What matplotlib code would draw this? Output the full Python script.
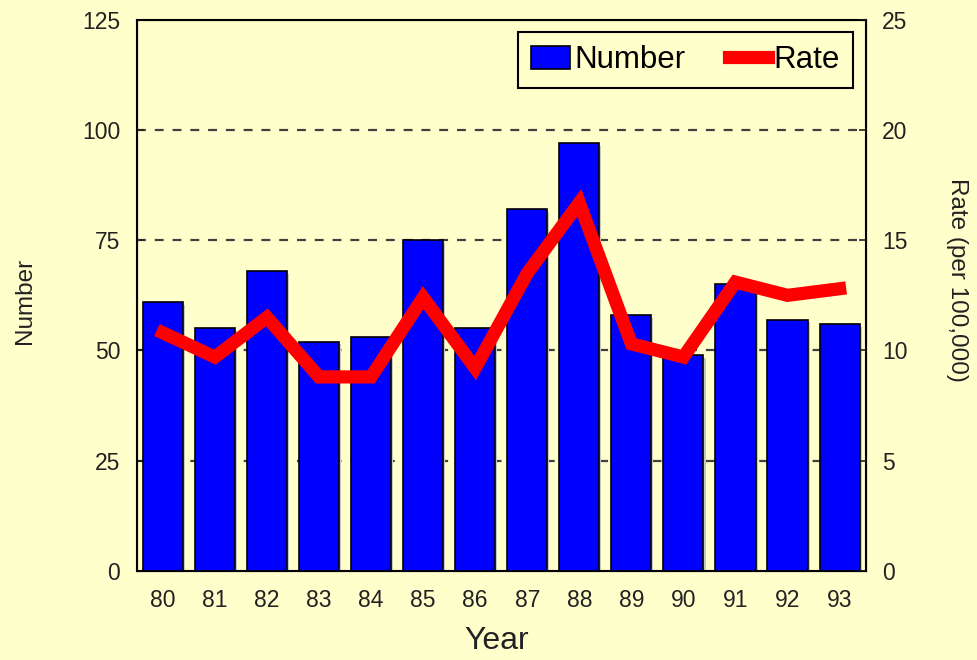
import numpy as np
import matplotlib.pyplot as plt

# data
years = ['80', '81', '82', '83', '84', '85', '86', '87', '88', '89', '90', '91', '92', '93']
number = [61, 55, 68, 52, 53, 75, 55, 82, 97, 58, 49, 65, 57, 56]
rate = [10.8, 9.7, 11.5, 8.8, 8.8, 12.4, 9.2, 13.5, 16.7, 10.3, 9.7, 13.1, 12.5, 12.8]

bg = '#FFFFCC'
plt.rcParams['font.family'] = ['Liberation Sans', 'DejaVu Sans']

fig = plt.figure(figsize=(9.77, 6.6), dpi=100, facecolor=bg)
ax = fig.add_axes([0.140, 0.135, 0.746, 0.835], facecolor=bg)
index = np.arange(len(years))

# light shadow behind each bar, then the bar itself
ax.bar(index + 0.04, number, 0.77, bottom=-0.6, color='#C8C8B8', zorder=2)
ax.bar(index, number, 0.77, color='#0000FF', edgecolor='black', linewidth=1.2,
       zorder=3, label='Number')

ax.set_ylim(0, 125)
ax.set_xlim(-0.5, len(years) - 0.5)
ax.set_yticks([0, 25, 50, 75, 100, 125])
ax.set_xticks(index)
ax.set_xticklabels(years)
ax.tick_params(axis='both', labelsize=16.5, length=5, width=1.2, direction='in',
               colors='#222222')
ax.tick_params(axis='y', pad=12)
ax.tick_params(axis='x', length=0, pad=13)
for y in [25, 50, 75, 100]:
    ax.axhline(y, color='#404040', linestyle=(0, (4, 4)), linewidth=1.6, zorder=1)
for s in ax.spines.values():
    s.set_linewidth(1.5)
ax.set_ylabel('Number', fontsize=17.5, color='#222222')
ax.yaxis.label.set_va('center')
ax.yaxis.set_label_coords(-0.154, 0.49)
ax.set_xlabel('Year', fontsize=23, color='#222222')
ax.xaxis.label.set_va('center')
ax.xaxis.set_label_coords(0.494, -0.127)

ax2 = ax.twinx()
ax2.plot(index, rate, color='#FF0000', linewidth=9.5, solid_joinstyle='miter',
         zorder=4, label='Rate')
ax2.set_ylim(0, 25)
ax2.set_yticks([0, 5, 10, 15, 20, 25])
ax2.tick_params(axis='y', labelsize=16.5, length=5, width=1.2, direction='in',
                pad=12, colors='#222222')
ax2.set_ylabel('Rate (per 100,000)', fontsize=17.5, rotation=-90, color='#222222')
ax2.yaxis.label.set_va('center')
ax2.yaxis.set_label_coords(1.126, 0.528)

h1, l1 = ax.get_legend_handles_labels()
h2, l2 = ax2.get_legend_handles_labels()
leg = ax2.legend(h1 + h2, l1 + l2, loc='upper right', ncol=2, fontsize=22.5,
                 frameon=True, fancybox=False, edgecolor='black',
                 facecolor=bg, framealpha=1, handlelength=1.25,
                 handleheight=0.75, handletextpad=0.15, columnspacing=1.4,
                 borderpad=0.42, borderaxespad=0,
                 bbox_to_anchor=(0.982, 0.978))
leg.get_frame().set_linewidth(1.5)

plt.savefig('out.png', dpi=100, facecolor=bg)
